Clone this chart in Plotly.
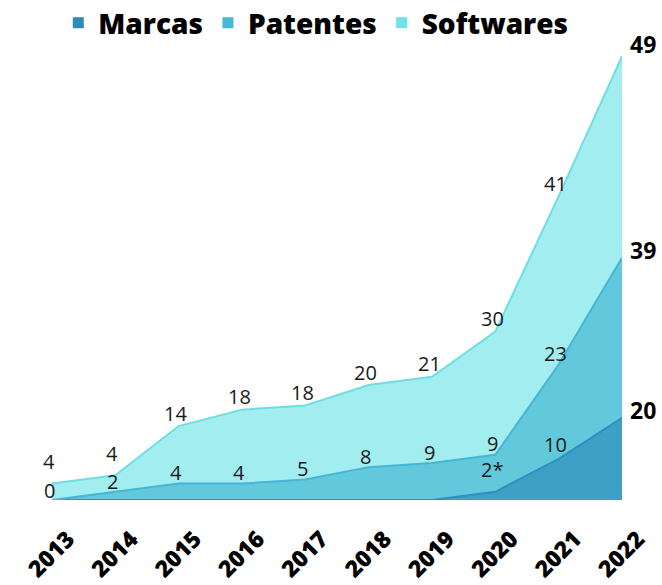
import plotly.graph_objects as go

years = [2013, 2014, 2015, 2016, 2017, 2018, 2019, 2020, 2021, 2022]
marcas = [0, 0, 0, 0, 0, 0, 0, 2, 10, 20]
patentes = [0, 2, 4, 4, 5, 8, 9, 9, 23, 39]
softwares = [4, 4, 14, 18, 18, 20, 21, 30, 41, 49]
marcas_labels = ["", "", "", "", "", "", "", "2*", "10", "20"]
year_labels = [str(y) for y in years]

names = ["Marcas", "Patentes", "Softwares"]
fill_colors = ["#3fa0c6", "#62c9dc", "#a2edef"]
line_colors = ["#2f8fc0", "#45b6d3", "#6cdee4"]
legend_colors = ["#2e8bb8", "#45b8d6", "#6ee3e8"]

W, H = 662, 585
ML, MR, MT, MB = 52, 40, 40, 85
YMAX = 112
k = (H - MT - MB) / YMAX  # px per unit

fig = go.Figure()
for name, vals, fc, lc in zip(names, [marcas, patentes, softwares], fill_colors, line_colors):
    fig.add_trace(go.Scatter(
        x=years, y=vals, name=name, mode="lines", stackgroup="one",
        fillcolor=fc, line=dict(color=lc, width=2), showlegend=False,
        hoverinfo="skip"))
for name, c in zip(names, legend_colors):
    fig.add_trace(go.Scatter(
        x=[None], y=[None], name=name, mode="markers",
        marker=dict(symbol="square", size=11, color=c), showlegend=True))

cum_m = marcas
cum_p = [a + b for a, b in zip(marcas, patentes)]
cum_s = [a + b for a, b in zip(cum_p, softwares)]

ann = []
font_n = dict(family="Open Sans", size=20, color="#1a1a1a")
font_b = dict(family="Open Sans", size=23, color="#000000", weight="bold")
last = len(years) - 1
P_SHIFT, S_SHIFT, GAP = 11, 13, 27
for i, yr in enumerate(years):
    if i == last:
        continue
    p_center = cum_p[i] * k + P_SHIFT
    s_shift = max(S_SHIFT, p_center + GAP - cum_s[i] * k)
    ann.append(dict(x=yr, y=cum_s[i], text=str(softwares[i]), showarrow=False,
                    yshift=s_shift, xshift=-3, font=font_n))
    p_shift = P_SHIFT if i > 1 else 10
    ann.append(dict(x=yr, y=cum_p[i], text=str(patentes[i]), showarrow=False,
                    yshift=p_shift, xshift=-3, font=font_n))
    if marcas_labels[i]:
        ys = 22 if marcas_labels[i].endswith("*") else 14
        ann.append(dict(x=yr, y=cum_m[i], text=marcas_labels[i], showarrow=False,
                        yshift=ys, xshift=-3, font=font_n))
yr = years[last]
ann.append(dict(x=yr, y=cum_s[last], text=str(softwares[last]), showarrow=False,
                xshift=21, yshift=12, font=font_b))
ann.append(dict(x=yr, y=cum_p[last], text=str(patentes[last]), showarrow=False,
                xshift=21, yshift=8, font=font_b))
ann.append(dict(x=yr, y=cum_m[last], text=marcas_labels[last], showarrow=False,
                xshift=21, yshift=8, font=font_b))

fig.update_layout(
    width=W, height=H,
    margin=dict(l=ML, r=MR, t=MT, b=MB, autoexpand=False),
    plot_bgcolor="white", paper_bgcolor="white",
    font=dict(family="Open Sans", color="#000"),
    annotations=ann,
    legend=dict(orientation="h", x=0.477, xref="container", xanchor="center",
                y=1 - 23 / H, yref="container", yanchor="middle",
                traceorder="normal",
                font=dict(family="Open Sans", size=28, color="#000", weight=800),
                itemwidth=30, bgcolor="rgba(0,0,0,0)"),
    xaxis=dict(range=[2013, 2022], tickvals=years, ticktext=year_labels,
               tickangle=-45, showgrid=False, zeroline=False, showline=False,
               ticks="", automargin=False, ticklabelstandoff=20, ticklabelshift=16,
               tickfont=dict(family="Open Sans", size=23, color="#000", weight=800)),
    yaxis=dict(range=[0, YMAX], visible=False, showgrid=False, zeroline=False,
               automargin=False),
)

fig.write_html("out.html", config={"displayModeBar": False},
               post_script="document.body.style.margin='0';document.body.style.overflow='hidden';")
